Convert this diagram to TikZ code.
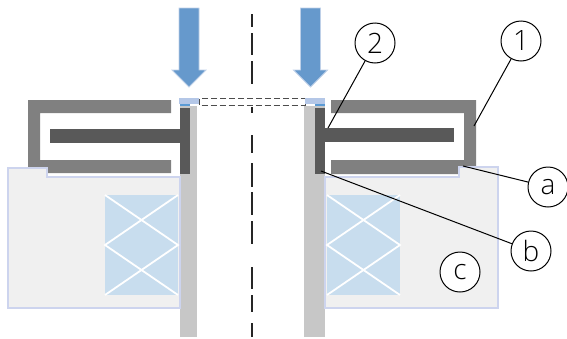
\documentclass[tikz,border=0pt]{standalone}
\usepackage{fontspec}
\setmainfont{Open Sans Light}
\tikzset{
  yoke/.style={fill=black!50,draw=none},
  plate/.style={fill=black!65,draw=none},
  tube/.style={fill=black!22,draw=none},
  base/.style={fill=black!6,draw={rgb,255:red,205;green,212;blue,238},line width=1.2pt},
  coil/.style={fill={rgb,255:red,200;green,221;blue,238},draw=none},
  coilx/.style={draw=white,line width=0.9pt},
  flow/.style={fill={rgb,255:red,102;green,153;blue,204},draw={rgb,255:red,190;green,208;blue,232},line width=0.4pt},
  ring/.style={fill={rgb,255:red,180;green,199;blue,231},draw=none},
  spot/.style={fill={rgb,255:red,91;green,155;blue,213},draw=none},
  tag/.style={circle,draw,fill=white,line width=0.5pt,minimum size=20pt,inner sep=0,font=\fontsize{14}{14}\selectfont},
  lead/.style={draw,line width=0.5pt}
}
\begin{document}
\begin{tikzpicture}[x=0.5pt,y=-0.5pt]
    \useasboundingbox (0,0) rectangle (567,338);
    % tubes
    \fill[tube] (180,106) rectangle (197,337);
    \fill[tube] (304,106) rectangle (325,337);
    % center line
    \foreach \ya/\yb in {14/27,33/55,61/84,107/113,135/153,163/187,192/215,221/244,267/289,295/312,323/337}
      \draw[line width=1pt,black!85] (252,\ya) -- (252,\yb);
    % yokes
    \fill[yoke] (171,100) -- (28,100) -- (28,173) -- (171,173) -- (171,160) -- (40,160) -- (40,113) -- (171,113) -- cycle;
    \fill[yoke] (331,100) -- (476,100) -- (476,174) -- (331,174) -- (331,160) -- (464,160) -- (464,113) -- (331,113) -- cycle;
    % plates
    \fill[plate] (50,129) rectangle (180,143);
    \fill[plate] (180,108) rectangle (190,174);
    \fill[plate] (325,128) rectangle (454,142);
    \fill[plate] (315,108) rectangle (325,174);
    % bodies
    \draw[base] (8,168) -- (47,168) -- (47,177) -- (180,177) -- (180,308) -- (8,308) -- cycle;
    \draw[base] (325,177) -- (459,177) -- (459,167) -- (498,167) -- (498,308) -- (325,308) -- cycle;
    \foreach \xa/\xb in {105/178,327/400}{
      \fill[coil] (\xa,195) rectangle (\xb,295);
      \draw[coilx] (\xa,195) -- (\xb,245) -- (\xa,295);
      \draw[coilx] (\xb,195) -- (\xa,245) -- (\xb,295);
    }
    % top
    \draw[black!70,line width=0.4pt,dash pattern=on 3pt off 1.5pt] (199,98.5) rectangle (305,105);
    \foreach \xa in {179,305}{
      \fill[ring] (\xa,98) rectangle (\xa+20,104);
    }
    \fill[spot] (180,104) rectangle (190,106);
    \fill[spot] (315,104) rectangle (325,106);
    \foreach \xc in {189,310.5}{
      \draw[flow] (\xc-10,8) -- (\xc+10,8) -- (\xc+10,70) -- (\xc+17,70) -- (\xc,87) -- (\xc-17,70) -- (\xc-10,70) -- cycle;
    }
    % tags
    \node[tag] (two) at (375,43) {2};
    \node[tag] (one) at (521,41) {1};
    \node[tag] (a) at (548,187) {a};
    \node[tag] (b) at (531,251) {b};
    \node[tag] (c) at (460,272) {c};
    \coordinate (two_end) at (328,128);
    \coordinate (one_end) at (474,126);
    \coordinate (a_end) at (463,166);
    \coordinate (b_end) at (321,171);
    \draw[lead] (two) -- (two_end);
    \draw[lead] (one) -- (one_end);
    \draw[lead] (a) -- (a_end);
    \draw[lead] (b) -- (b_end);
  \end{tikzpicture}
\end{document}
